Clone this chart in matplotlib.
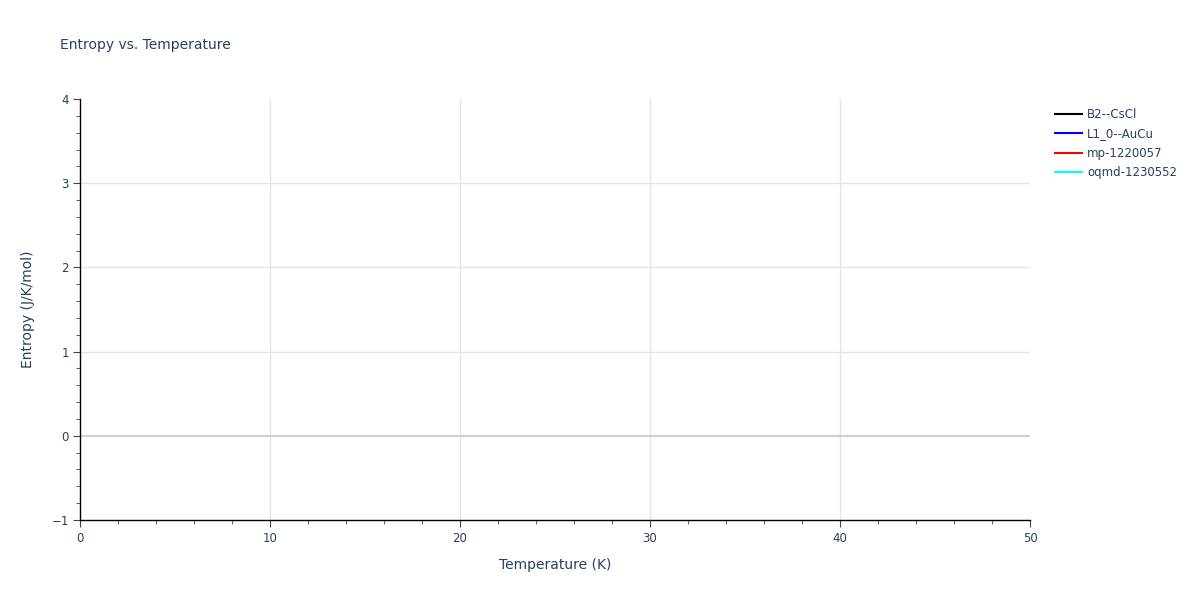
import numpy as np
import matplotlib.pyplot as plt
from matplotlib.ticker import MultipleLocator

# series shown in the legend; no points fall inside the visible window
series_names = ["B2--CsCl", "L1_0--AuCu", "mp-1220057", "oqmd-1230552"]
series_colors = ["black", "blue", "red", "cyan"]
temperature = [[], [], [], []]
entropy = [[], [], [], []]

x_range = [0, 50]
y_range = [-1, 4]
x_ticks = [0, 10, 20, 30, 40, 50]
y_ticks = [-1, 0, 1, 2, 3, 4]

font_color = "#2a3f5f"
plt.rcParams['font.family'] = ['DejaVu Sans']

fig = plt.figure(figsize=(12, 6), dpi=100)
ax = fig.add_axes([80 / 1200, 80 / 600, 950 / 1200, 421 / 600])

for i in range(len(series_names)):
    ax.plot(temperature[i], entropy[i], color=series_colors[i], lw=1.5, label=series_names[i])

ax.set_xlim(x_range)
ax.set_ylim(y_range)
ax.set_xticks(x_ticks)
ax.set_yticks(y_ticks)
ax.set_yticklabels(["\u22121" if t < 0 else str(t) for t in y_ticks])
ax.xaxis.set_minor_locator(MultipleLocator(2))
ax.yaxis.set_minor_locator(MultipleLocator(0.2))

# grid lines only inside the plot area, none along the top/right edges
for t in x_ticks[1:-1]:
    ax.axvline(t, color='#e5e5e5', lw=1, zorder=0)
for t in y_ticks[2:-1]:
    ax.axhline(t, color='#e5e5e5', lw=1, zorder=0)
ax.axhline(0, color='#d0d0d0', lw=1.5, zorder=1)

for side in ['top', 'right']:
    ax.spines[side].set_visible(False)
for side in ['left', 'bottom']:
    ax.spines[side].set_color('black')
    ax.spines[side].set_linewidth(1)

ax.tick_params(which='major', direction='out', length=5, color='#444444', labelsize=8.5, labelcolor=font_color)
ax.tick_params(which='minor', direction='out', length=3, color='#444444')
ax.tick_params(axis='x', pad=4)
ax.tick_params(axis='y', pad=3)

ax.set_xlabel("Temperature (K)", fontsize=10, color=font_color, labelpad=9)
ax.set_ylabel("Entropy (J/K/mol)", fontsize=10, color=font_color, labelpad=12)

fig.text(60 / 1200, 1 - 45 / 600, "Entropy vs. Temperature", fontsize=10, color=font_color, va='center')

leg = ax.legend(loc='upper left', bbox_to_anchor=(1.021, 0.99), frameon=False, fontsize=8.5,
                handlelength=2.3, handletextpad=0.45, labelspacing=0.55, borderaxespad=0)
for t in leg.get_texts():
    t.set_color(font_color)

fig.savefig("out.png", dpi=100)
